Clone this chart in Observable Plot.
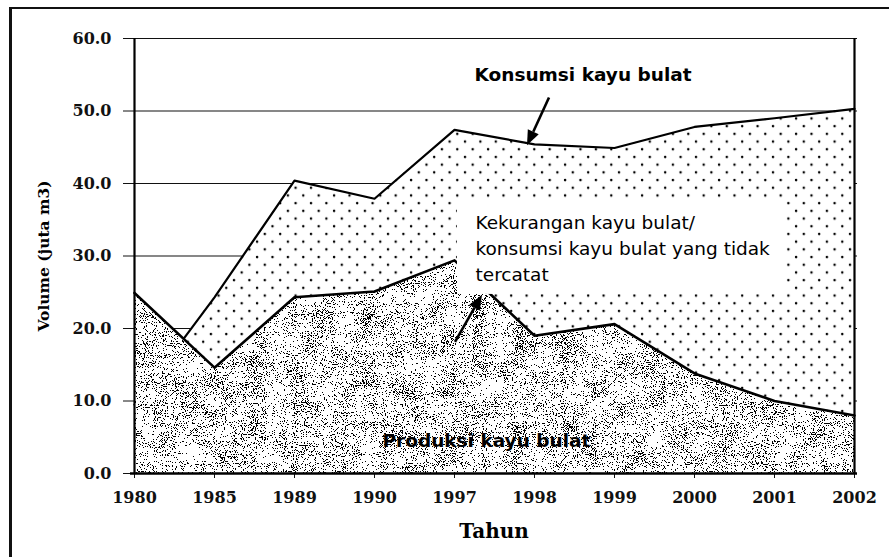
<!DOCTYPE html>
<html>
<head>
<meta charset="utf-8">
<script src="https://cdn.jsdelivr.net/npm/d3@7"></script>
<script src="https://cdn.jsdelivr.net/npm/@observablehq/plot@0.6"></script>
<style>
  html, body { margin: 0; padding: 0; background: #fff; }
  #wrap { position: relative; width: 889px; height: 557px; overflow: hidden; background: #fff; }
  #frameTop { position: absolute; left: 9px; top: 7px; width: 880px; height: 2px; background: #111; }
  #frameLeft { position: absolute; left: 9px; top: 7px; width: 3px; height: 550px; background: #111; }
  #chart { position: absolute; left: 0; top: 0; }
</style>
</head>
<body>
<svg width="0" height="0" style="position:absolute">
  <defs>
    <pattern id="dots" patternUnits="userSpaceOnUse" width="15.4" height="15.4">
      <rect width="15.4" height="15.4" fill="#fff"/>
      <circle cx="3" cy="3" r="1.25" fill="#000"/>
      <circle cx="10.7" cy="10.7" r="1.25" fill="#000"/>
    </pattern>
    <filter id="grain" filterUnits="userSpaceOnUse" x="0" y="0" width="889" height="557" color-interpolation-filters="sRGB">
      <feTurbulence type="fractalNoise" baseFrequency="0.9" numOctaves="2" seed="5" result="fine"/>
      <feTurbulence type="fractalNoise" baseFrequency="0.045" numOctaves="3" seed="11" result="coarse"/>
      <feComposite in="fine" in2="coarse" operator="arithmetic" k1="0" k2="0.9" k3="0.25" k4="-0.075" result="mix"/>
      <feColorMatrix in="mix" type="matrix" values="0 0 0 0 0  0 0 0 0 0  0 0 0 0 0  3 0 0 0 -1" result="a"/>
      <feComponentTransfer in="a" result="t">
        <feFuncA type="discrete" tableValues="0 0 0 0 0 0 0 0 0 0 0 0 1 1 1 1 1 1 1 1"/>
      </feComponentTransfer>
      <feFlood flood-color="#fff" result="white"/>
      <feMerge><feMergeNode in="white"/><feMergeNode in="t"/></feMerge>
    </filter>
    <pattern id="speckle" patternUnits="userSpaceOnUse" x="0" y="0" width="889" height="557">
      <rect width="889" height="557" fill="#fff" filter="url(#grain)"/>
    </pattern>
  </defs>
</svg>
<div id="wrap">
  <div id="chart"></div>
  <div id="frameTop"></div>
  <div id="frameLeft"></div>
</div>
<script>
// ---- data ----
const years = ["1980", "1985", "1989", "1990", "1997", "1998", "1999", "2000", "2001", "2002"];
const konsumsi = [9.5, 24.3, 40.4, 37.9, 47.4, 45.4, 44.9, 47.8, 49.0, 50.3];
const produksi = [24.9, 14.6, 24.3, 25.1, 29.4, 19.0, 20.6, 13.8, 10.0, 8.0];
const yTicks = [0, 10, 20, 30, 40, 50, 60];
const gridTicks = [10, 20, 30, 40, 50, 60];

const xTitle = "Tahun";
const yTitle = "Volume (juta m3)";
const labelKonsumsi = "Konsumsi kayu bulat";
const labelProduksi = "Produksi kayu bulat";
const labelKekurangan = "Kekurangan kayu bulat/\nkonsumsi kayu bulat yang tidak\ntercatat";

// ---- annotation placement (separate from data) ----
const annot = {
  konsumsi: {x: "1997", dx: 20, y: 54.2},
  produksi: {x: "1990", dx: 8, y: 3.6},
  kekurangan: {x: "1997", dx: 21, y: 26.6},
  box: {x1: "1997", x2: "2001", insetLeft: 3, insetRight: -9, y1: 24.7, y2: 37.6}
};
const arrows = [
  {x1: "1998", dx1: 15, y1: 51.8, x2: "1998", dx2: -7, y2: 45.2},
  {x1: "1997", dx1: 1, y1: 18.1, x2: "1997", dx2: 28, y2: 24.6}
];

const table = years.map((year, i) => ({year, konsumsi: konsumsi[i], produksi: produksi[i]}));

const sans = "'DejaVu Sans', Verdana, sans-serif";
const serif = "'DejaVu Serif', serif";

const plot = Plot.plot({
  width: 889,
  height: 557,
  marginLeft: 130,
  marginRight: 32,
  marginTop: 38,
  marginBottom: 84,
  style: {fontFamily: serif, fontSize: "16px", fontWeight: "bold", color: "#111", background: "transparent"},
  x: {type: "point", domain: years, padding: 0, tickSize: 5, tickPadding: 13, label: null},
  y: {domain: [0, 60], ticks: yTicks, tickFormat: d => d.toFixed(1), tickSize: 7, tickPadding: 12, label: null},
  marks: [
    Plot.ruleY(gridTicks, {stroke: "#111", strokeWidth: 1.1}),
    Plot.areaY(table, {x: "year", y: "konsumsi", fill: "url(#dots)"}),
    Plot.lineY(table, {x: "year", y: "konsumsi", stroke: "#000", strokeWidth: 2.2}),
    Plot.areaY(table, {x: "year", y: "produksi", fill: "url(#speckle)"}),
    Plot.lineY(table, {x: "year", y: "produksi", stroke: "#000", strokeWidth: 2.6}),
    Plot.ruleX([years[0]], {y1: 0, y2: 60, stroke: "#000", strokeWidth: 2.2}),
    Plot.ruleX([years[years.length - 1]], {y1: 0, y2: 60, stroke: "#000", strokeWidth: 2.2}),
    Plot.ruleY([0], {stroke: "#000", strokeWidth: 2.6}),
    Plot.rect([annot.box], {x1: "x1", x2: "x2", y1: "y1", y2: "y2", fill: "#fff",
      insetLeft: annot.box.insetLeft, insetRight: annot.box.insetRight}),
    Plot.text([labelKonsumsi], {x: () => annot.konsumsi.x, y: () => annot.konsumsi.y, dx: annot.konsumsi.dx,
      textAnchor: "start", lineAnchor: "bottom", fontFamily: sans, fontWeight: "bold", fontSize: 18.5, fill: "#000"}),
    Plot.text([labelProduksi], {x: () => annot.produksi.x, y: () => annot.produksi.y, dx: annot.produksi.dx,
      textAnchor: "start", lineAnchor: "bottom", fontFamily: sans, fontWeight: "bold", fontSize: 18.5, fill: "#000"}),
    Plot.text([labelKekurangan], {x: () => annot.kekurangan.x, y: () => annot.kekurangan.y, dx: annot.kekurangan.dx,
      textAnchor: "start", lineAnchor: "bottom", lineHeight: 1.4, fontFamily: sans, fontWeight: "normal", fontSize: 18.5, fill: "#000"}),
    Plot.text([xTitle], {frameAnchor: "bottom", dy: 64, lineAnchor: "bottom", fontFamily: serif, fontWeight: "bold", fontSize: 20, fill: "#000"}),
    Plot.text([yTitle], {frameAnchor: "left", dx: -86, rotate: -90, textAnchor: "middle", lineAnchor: "middle", fontFamily: serif, fontWeight: "bold", fontSize: 15.5, fill: "#000"})
  ]
});

document.getElementById("chart").appendChild(plot);

// arrows with filled heads, positioned through the plot's scales
const sx = plot.scale("x"), sy = plot.scale("y");
const svg = d3.select(plot);
const g = svg.append("g").attr("aria-label", "arrows");
for (const a of arrows) {
  const x1 = sx.apply(a.x1) + a.dx1, y1 = sy.apply(a.y1);
  const x2 = sx.apply(a.x2) + a.dx2, y2 = sy.apply(a.y2);
  const ang = Math.atan2(y2 - y1, x2 - x1);
  const hl = 15, hw = 6;
  const bx = x2 - hl * Math.cos(ang), by = y2 - hl * Math.sin(ang);
  g.append("line").attr("x1", x1).attr("y1", y1).attr("x2", bx).attr("y2", by)
    .attr("stroke", "#000").attr("stroke-width", 2.6);
  const px = -Math.sin(ang) * hw, py = Math.cos(ang) * hw;
  g.append("polygon")
    .attr("points", `${x2},${y2} ${bx + px},${by + py} ${bx - px},${by - py}`)
    .attr("fill", "#000");
}
</script>
</body>
</html>
